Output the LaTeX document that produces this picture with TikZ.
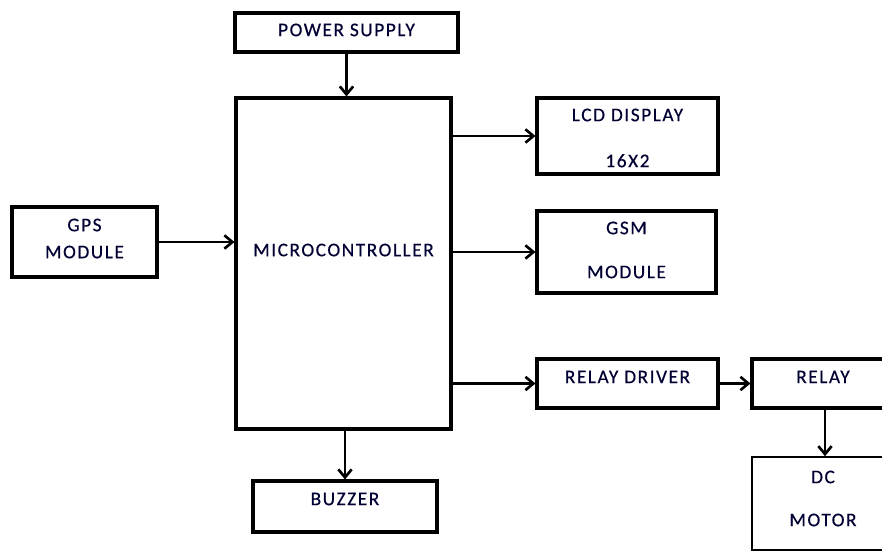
\documentclass[tikz,border=0pt]{standalone}
\usepackage{fontspec}
\setmainfont{Carlito}[LetterSpace=8, FakeBold=0.4]
\usetikzlibrary{arrows.meta}
\newcommand{\lblfont}{\fontsize{14.5}{16}\selectfont}
\tikzset{
  box/.style={draw=black, line width=2.3pt, rectangle, inner sep=0pt, fill=white},
  thinbox/.style={draw=black, line width=1.2pt, rectangle, inner sep=0pt},
  txt/.style={font=\lblfont, align=center, text=black!80!blue},
  conn/.style={line width=2pt, -{Straight Barb[length=6pt,width=10pt,line width=2pt]}},
}
\begin{document}
\begin{tikzpicture}[x=0.75pt, y=-0.75pt]
\useasboundingbox (0,0) rectangle (882,552);
\clip (0,0) rectangle (882,552);
\fill[white] (0,0) rectangle (882,552);
% boxes
\node[box, minimum width=167.25pt, minimum height=29.25pt] (power) at (346.5,32.5) {};
\node[box, minimum width=161.25pt, minimum height=248.25pt] (mcu) at (343.5,263.5) {};
\node[box, minimum width=108.75pt, minimum height=52.5pt] (gps) at (84.5,242) {};
\node[box, minimum width=135.75pt, minimum height=57pt] (lcd) at (627.5,136) {};
\node[box, minimum width=134.25pt, minimum height=61.5pt] (gsm) at (626.5,252) {};
\node[box, minimum width=135.75pt, minimum height=36.75pt] (rd) at (627.5,383.5) {};
\node[box, minimum width=106.5pt, minimum height=36.75pt] (relay) at (823,383.5) {};
\node[thinbox, minimum width=106.5pt, minimum height=69.75pt] (dc) at (823,503.5) {};
\node[box, minimum width=138pt, minimum height=38.25pt] (buzzer) at (345,506.5) {};
% texts
\node[txt] (powert) at ([yshift=1.9pt]power.center) {POWER SUPPLY};
\node[txt] (mcut) at ([yshift=10.1pt]mcu.center) {MICROCONTROLLER};
\node[txt] (gpst) at ([yshift=2.6pt]gps.center) {GPS\\[4.25pt]MODULE};
\node[txt] (lcdt) at ([yshift=-1.5pt]lcd.center) {LCD DISPLAY\\[18.5pt]16X2};
\node[txt] (gsmt) at ([yshift=1.5pt]gsm.center) {GSM\\[17pt]MODULE};
\node[txt] (rdt) at ([yshift=4.9pt]rd.center) {RELAY DRIVER};
\node[txt] (relayt) at ([yshift=4.9pt]relay.center) {RELAY};
\node[txt] (dct) at ([yshift=3.75pt]dc.center) {DC\\[16.25pt]MOTOR};
\node[txt] (buzzert) at ([yshift=5.6pt]buzzer.center) {BUZZER};
% connectors
\draw[conn] (power.south) -- (power.south |- mcu.north);
\draw[conn] (gps.east) -- (gps.east -| mcu.west);
\draw[conn] (lcd.west -| mcu.east) -- (lcd.west);
\draw[conn] (gsm.west -| mcu.east) -- (gsm.west);
\draw[conn] (rd.west -| mcu.east) -- (rd.west);
\draw[conn] (rd.east) -- (rd.east -| relay.west);
\draw[conn] ([xshift=1.5pt]relay.south) -- ([xshift=1.5pt]dc.north);
\draw[conn] (mcu.south -| buzzer.north) -- (buzzer.north);
\end{tikzpicture}
\end{document}
